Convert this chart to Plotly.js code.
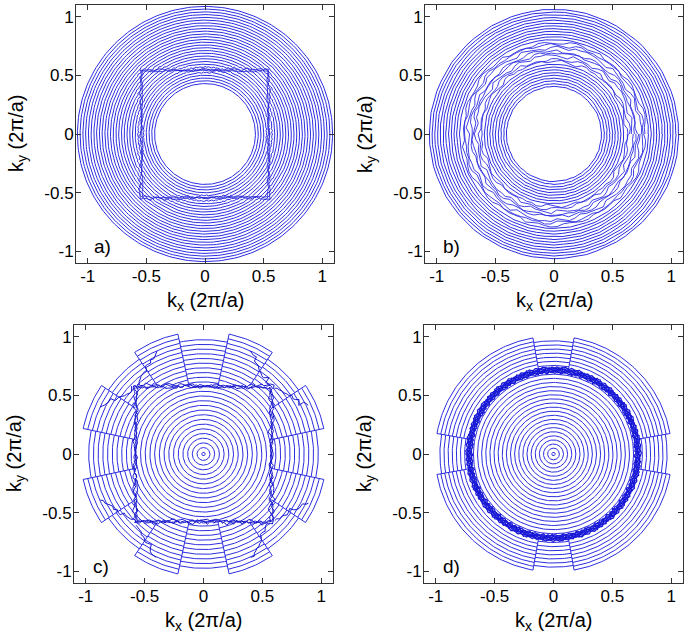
<!DOCTYPE html>
<html><head><meta charset="utf-8">
<script src="https://cdn.plot.ly/plotly-3.0.1.min.js"></script>
<style>html,body{margin:0;padding:0;background:#fff}#chart{width:685px;height:640px}</style>
</head><body><div id="chart"></div>
<script>
// ---------- values ----------
const tickVals = [-1, -0.5, 0, 0.5, 1];
const tickText = ['-1', '-0.5', '0', '0.5', '1'];
const panelLabels = ['a)', 'b)', 'c)', 'd)'];
const xTitle = 'k<sub>x</sub> (2\u03c0/a)';
const yTitle = 'k<sub>y</sub> (2\u03c0/a)';

// panel a: contour radii and jagged square half-width
const ringsA = [0.430,0.454,0.477,0.501,0.524,0.548,0.571,0.595,0.618,0.642,0.665,0.689,0.712,0.736,0.759,0.783,0.806,0.830,0.853,0.877,0.900,0.924,0.947,0.971,0.994,1.018,1.041,1.065,1.088];
const squareA = 0.55;

// panel b: contour radii, irregular band radius range
const ringsB = [0.405,0.428,0.452,0.475,0.499,0.522,0.546,0.569,0.593,0.616,0.640,0.663,0.687,0.710,0.734,0.757,0.781,0.804,0.828,0.851,0.875,0.898,0.922,0.945,0.969,0.992,1.016,1.039,1.062];
const bandB = [0.60, 0.79];

// panel c: contour radii, square half-width, sector arcs and sector edges (deg from axis)
const ringsC = [0.015,0.055,0.095,0.135,0.175,0.215,0.255,0.295,0.335,0.375,0.415,0.455,0.495,0.535,0.575,0.615,0.655,0.695,0.735,0.775,0.815,0.855,0.895,0.935,0.975];
const squareC = 0.58;
const arcsC1 = [0.645,0.685,0.725,0.765,0.805,0.845,0.885,0.925,0.965,1.005,1.045];
const sectorEdgesC = [12, 34, 56, 78];

// panel d: inner radii, dense band radii, sector arcs, sector edges
const ringsD = [0.015,0.050,0.085,0.120,0.155,0.190,0.225,0.260,0.295,0.330,0.365,0.400,0.435,0.470,0.505,0.540,0.575,0.610,0.645,0.680];
const bandD = [0.695,0.702,0.709,0.716,0.723,0.730,0.737];
const arcsDcard = [0.755,0.790,0.825,0.860,0.895,0.930,0.965];
const arcsDbig = [0.774,0.807,0.840,0.873,0.906,0.939,0.972,1.005];
const sectorEdgesD = [10, 80];

// hand-read wiggle pattern for the jagged contours
const wiggle = [0.3,-0.8,0.6,0.1,-0.4,0.9,-0.2,-0.7,0.5,0.2,-0.9,0.7,-0.1,0.4,-0.6,0.8,-0.3,0.0,0.6,-0.5,0.9,-0.8,0.2,0.3,-0.4,0.7,-0.9,0.1,0.5,-0.2,0.8,-0.6,0.0,0.4,-0.7,0.6,-0.1,-0.5,0.9,-0.3,0.2,-0.8,0.7,0.1,-0.4,0.5,-0.9,0.3];

// ---------- helpers ----------
const D2R = Math.PI / 180;
const W = k => wiggle[((k % wiggle.length) + wiggle.length) % wiggle.length];
function mk(ax) { return {x: [], y: [], ax: ax}; }
function brk(t) { t.x.push(null); t.y.push(null); }
function arc(t, r, a0, a1, step, keep, rf) {
  let open = false, k = 0;
  for (let a = a0; a <= a1 + 1e-9; a += step, k++) {
    const rr = rf ? rf(r, k) : r;
    const x = rr * Math.cos(a * D2R), y = rr * Math.sin(a * D2R);
    if (!keep || keep(x, y)) { t.x.push(x); t.y.push(y); open = true; }
    else if (open) { brk(t); open = false; }
  }
  brk(t);
}
function jaggedSquare(t, s, amp, phase, n) {
  const corners = [[-s, s], [s, s], [s, -s], [-s, -s], [-s, s]];
  let k = phase;
  for (let e = 0; e < 4; e++) {
    const [x0, y0] = corners[e], [x1, y1] = corners[e + 1];
    const nx = (y1 - y0) / (2 * s), ny = -(x1 - x0) / (2 * s);
    for (let i = 0; i < n; i++, k++) {
      const f = i / n, d = amp * (0.6 * W(k * 3) + 0.5 * W(Math.floor(k / 4) * 7 + 2));
      const ff = f + 0.25 / n * W(k * 5 + 1);
      t.x.push(x0 + (x1 - x0) * ff + nx * d);
      t.y.push(y0 + (y1 - y0) * ff + ny * d);
    }
  }
  t.x.push(corners[0][0]); t.y.push(corners[0][1]);
  brk(t);
}
function jaggedSeg(t, x0, y0, x1, y1, amp, phase, n) {
  const L = Math.hypot(x1 - x0, y1 - y0), nx = -(y1 - y0) / L, ny = (x1 - x0) / L;
  for (let i = 0; i <= n; i++) {
    const f = i / n, d = amp * W(phase + 5 * i);
    t.x.push(x0 + (x1 - x0) * f + nx * d); t.y.push(y0 + (y1 - y0) * f + ny * d);
  }
  brk(t);
}
function radial(t, ang, r0, r1) {
  t.x.push(r0 * Math.cos(ang * D2R), r1 * Math.cos(ang * D2R)); t.y.push(r0 * Math.sin(ang * D2R), r1 * Math.sin(ang * D2R));
  brk(t);
}

// ---------- panel a ----------
const aR = mk(1), aJ = mk(1);
ringsA.forEach((r, i) => arc(aR, r, 0, 360, 1.5, null, (rr, k) => {
  const a = k * 1.5 * D2R, m = Math.max(Math.abs(Math.cos(a)), Math.abs(Math.sin(a))) * rr;
  return Math.abs(m - squareA) < 0.03 ? rr + 0.006 * W(k + i * 3) : rr;
}));
jaggedSquare(aJ, squareA, 0.016, 0, 48);
jaggedSquare(aJ, squareA - 0.012, 0.012, 11, 48);

// ---------- panel b ----------
const bR = mk(2), bJ = mk(2);
ringsB.forEach((r, i) => {
  if (r >= bandB[0] && r <= bandB[1]) arc(bJ, r, 0, 360, 4, null, (rr, k) => rr + 0.018 * W(k * 3 + i * 7));
  else arc(bR, r, 0, 360, 5, null, (rr, k) => rr + 0.003 * W(k + i * 5));
});

// ---------- panel c ----------
const cR = mk(3), cJ = mk(3);
const inSqC = (x, y) => Math.abs(x) <= squareC && Math.abs(y) <= squareC;
const outSqC = (x, y) => !inSqC(x, y);
ringsC.forEach(r => arc(cR, r, 0, 360, 1.5, inSqC));
for (let q = 0; q < 4; q++) {
  const b = 90 * q;
  ringsC.forEach(r => arc(cR, r, b - sectorEdgesC[0], b + sectorEdgesC[0], 1, outSqC));
  arcsC1.forEach(r => arc(cR, r, b + sectorEdgesC[0], b + sectorEdgesC[1], 1, outSqC));
  ringsC.forEach(r => arc(cR, r, b + sectorEdgesC[1], b + sectorEdgesC[2], 1, outSqC));
  arcsC1.forEach(r => arc(cR, r, b + sectorEdgesC[2], b + sectorEdgesC[3], 1, outSqC));
  sectorEdgesC.forEach(e => {
    const a = b + e, r0 = squareC / Math.max(Math.abs(Math.cos(a * D2R)), Math.abs(Math.sin(a * D2R)));
    radial(cR, a, r0, arcsC1[arcsC1.length - 1]);
  });
}
for (let p = 0; p < 3; p++) jaggedSquare(cJ, squareC + 0.008 * (p - 1), 0.022, p * 9, 64);
[[1, 1], [-1, 1], [-1, -1], [1, -1]].forEach(([sx, sy], i) => {
  jaggedSeg(cJ, sx * 0.56, sy * 0.60, sx * 0.40, sy * 0.88, 0.025, i * 7, 14);
  jaggedSeg(cJ, sx * 0.60, sy * 0.56, sx * 0.88, sy * 0.40, 0.025, i * 7 + 3, 14);
});

// ---------- panel d ----------
const dR = mk(4), dJ = mk(4);
ringsD.forEach(r => arc(dR, r, 0, 360, 1.5));
bandD.forEach((r, i) => arc(dJ, r, 0, 360, 1, null, (rr, k) => rr + 0.01 * W(k * 2 + i * 11)));
for (let q = 0; q < 4; q++) {
  const b = 90 * q;
  arcsDcard.forEach(r => arc(dR, r, b - sectorEdgesD[0], b + sectorEdgesD[0], 1));
  arcsDbig.forEach(r => arc(dR, r, b + sectorEdgesD[0], b + sectorEdgesD[1], 1));
  sectorEdgesD.forEach(e => radial(dR, b + e, 0.735, arcsDbig[arcsDbig.length - 1]));
}

// ---------- traces ----------
const BLUE = 'rgb(45,45,225)';
function tr(t, w, c) {
  const s = t.ax === 1 ? '' : String(t.ax);
  return {type: 'scatter', mode: 'lines', x: t.x, y: t.y, xaxis: 'x' + s, yaxis: 'y' + s,
    line: {color: c || BLUE, width: w}, hoverinfo: 'skip', showlegend: false, connectgaps: false};
}
const data = [tr(aR, 1), tr(aJ, 0.8, 'rgb(30,30,210)'), tr(bR, 1), tr(bJ, 0.9),
              tr(cR, 1), tr(cJ, 1.0, 'rgb(25,25,205)'), tr(dR, 1), tr(dJ, 1.3, 'rgb(25,25,215)')];

// ---------- layout ----------
const FONT = 'Liberation Sans, Arial, Helvetica, sans-serif';
const boxes = [[76, 334, 5, 263], [425, 683, 5, 263], [74, 333, 325, 583], [424, 683, 325, 583]];
const layout = {width: 685, height: 640, margin: {l: 0, r: 0, t: 0, b: 0}, paper_bgcolor: '#fff', plot_bgcolor: '#fff',
  font: {family: FONT, size: 17, color: '#000'}, annotations: []};
function axis(dom, anchor) {
  return {domain: dom, anchor: anchor, range: [-1.1, 1.1], tickmode: 'array', tickvals: tickVals, ticktext: tickText,
    ticks: 'inside', ticklen: 5, tickwidth: 1, tickcolor: '#333', showline: true, linecolor: '#333', linewidth: 1,
    mirror: 'allticks', showgrid: false, zeroline: false, ticklabelstandoff: -2,
    tickfont: {family: FONT, size: 17, color: '#000'}, fixedrange: true};
}
boxes.forEach((bx, i) => {
  const s = i === 0 ? '' : String(i + 1);
  const xd = [bx[0] / 685, bx[1] / 685], yd = [1 - bx[3] / 640, 1 - bx[2] / 640];
  layout['xaxis' + s] = axis(xd, 'y' + s);
  layout['yaxis' + s] = axis(yd, 'x' + s);
  layout.annotations.push({xref: 'paper', yref: 'paper', x: (bx[0] + bx[1]) / 2 / 685, y: 1 - (bx[3] + 38) / 640,
    text: xTitle, showarrow: false, xanchor: 'center', yanchor: 'middle', font: {family: FONT, size: 20, color: '#000'}});
  layout.annotations.push({xref: 'paper', yref: 'paper', x: (bx[0] - 59) / 685, y: 1 - (bx[2] + bx[3]) / 2 / 640,
    text: yTitle, textangle: -90, showarrow: false, xanchor: 'center', yanchor: 'middle', font: {family: FONT, size: 20, color: '#000'}});
  layout.annotations.push({xref: 'x' + s, yref: 'y' + s, x: -0.87, y: -0.96, text: panelLabels[i], showarrow: false,
    xanchor: 'center', yanchor: 'middle', font: {family: FONT, size: 19, color: '#000'}});
});
Plotly.newPlot('chart', data, layout, {staticPlot: true, displayModeBar: false});
</script></body></html>
